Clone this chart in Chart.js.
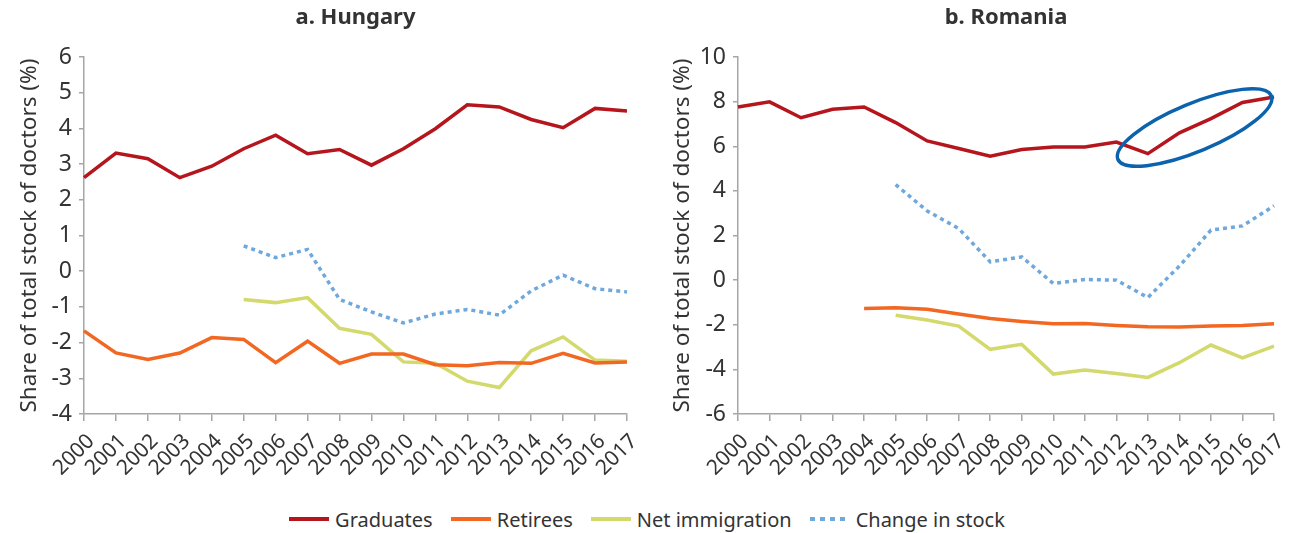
<!DOCTYPE html>
<html>
<head>
<meta charset="utf-8">
<script src="https://cdn.jsdelivr.net/npm/chart.js@4"></script>
<style>
  html, body { margin: 0; padding: 0; background: #fff; }
  body { width: 1294px; height: 533px; overflow: hidden; font-family: "Noto Sans", "Open Sans", sans-serif; }
  .charts { display: flex; width: 1294px; height: 490px; }
  .box { position: relative; width: 647px; height: 490px; }
  .legend { display: flex; justify-content: center; align-items: center; margin-top: 16px; height: 26px; font-size: 20px; color: #333; }
  .item { display: flex; align-items: center; margin: 0 9px; }
  .swatch { width: 40px; height: 4px; margin-right: 6px; }
</style>
</head>
<body>
<div class="charts">
  <div class="box"><canvas id="hungary" width="647" height="490"></canvas></div>
  <div class="box"><canvas id="romania" width="647" height="490"></canvas></div>
</div>
<div class="legend" id="legend"></div>

<script>
// Years on the x axis
const years = ['2000','2001','2002','2003','2004','2005','2006','2007','2008','2009',
               '2010','2011','2012','2013','2014','2015','2016','2017'];

// a. Hungary
const huGraduates = [2.62, 3.31, 3.15, 2.62, 2.94, 3.43, 3.81, 3.29, 3.41, 2.97, 3.43, 3.99, 4.66, 4.60, 4.25, 4.02, 4.56, 4.49];
const huRetirees = [-1.67, -2.29, -2.47, -2.29, -1.86, -1.91, -2.56, -1.96, -2.58, -2.32, -2.32, -2.62, -2.65, -2.56, -2.58, -2.30, -2.57, -2.54];
const huImmigration = [null, null, null, null, null, -0.79, -0.88, -0.74, -1.60, -1.77, -2.54, -2.58, -3.08, -3.26, -2.23, -1.84, -2.49, -2.52];
const huChange = [null, null, null, null, null, 0.71, 0.38, 0.61, -0.79, -1.14, -1.45, -1.20, -1.07, -1.23, -0.55, -0.11, -0.49, -0.58];

// b. Romania
const roGraduates = [7.76, 7.99, 7.28, 7.66, 7.76, 7.06, 6.24, 5.90, 5.55, 5.85, 5.97, 5.97, 6.19, 5.67, 6.60, 7.24, 7.96, 8.21];
const roRetirees = [null, null, null, null, -1.27, -1.24, -1.31, -1.52, -1.72, -1.85, -1.96, -1.94, -2.03, -2.09, -2.10, -2.06, -2.03, -1.96];
const roImmigration = [null, null, null, null, null, -1.57, -1.79, -2.06, -3.10, -2.88, -4.21, -4.03, -4.18, -4.36, -3.70, -2.91, -3.48, -2.96];
const roChange = [null, null, null, null, null, 4.28, 3.10, 2.31, 0.82, 1.04, -0.15, 0.03, 0.00, -0.78, 0.63, 2.24, 2.43, 3.33];

const seriesNames = ['Graduates', 'Retirees', 'Net immigration', 'Change in stock'];
const seriesColors = ['#b5161d', '#f26722', '#d3d96c', '#6fa8dc'];

const FONT = '"Noto Sans", "Open Sans", sans-serif';
const TEXT = '#333333';
const AXIS = '#a6a6a6';

function makeDatasets(values) {
  return values.map((v, i) => ({
    label: seriesNames[i],
    data: v,
    borderColor: seriesColors[i],
    backgroundColor: seriesColors[i],
    borderWidth: 3.5,
    borderDash: i === 3 ? [4, 4] : [],
    borderCapStyle: 'butt',
    pointRadius: 0,
    tension: 0,
    fill: false,
    spanGaps: false
  }));
}

// panel title centred over the plot area rather than the whole canvas
const panelTitlePlugin = {
  id: 'panelTitle',
  afterDraw(chart, args, opts) {
    const ctx = chart.ctx;
    const area = chart.chartArea;
    ctx.save();
    ctx.font = 'bold 22px ' + FONT;
    ctx.fillStyle = TEXT;
    ctx.textAlign = 'center';
    ctx.textBaseline = 'middle';
    ctx.fillText(opts.text, (area.left + area.right) / 2, 18);
    ctx.restore();
  }
};

// blue ellipse drawn around the recent graduates increase in Romania
const highlightPlugin = {
  id: 'highlight',
  afterDatasetsDraw(chart, args, opts) {
    if (!opts || !opts.show) return;
    const ctx = chart.ctx;
    const cx = chart.scales.x.getPixelForValue(opts.xIndex);
    const cy = chart.scales.y.getPixelForValue(opts.yValue);
    ctx.save();
    ctx.beginPath();
    ctx.ellipse(cx, cy, 83, 24, -22.5 * Math.PI / 180, 0, Math.PI * 2);
    ctx.strokeStyle = '#0b63ad';
    ctx.lineWidth = 3.5;
    ctx.stroke();
    ctx.restore();
  }
};

function makeChart(id, values, yMin, yMax, step, axisWidth, titlePad, title, highlight) {
  return new Chart(document.getElementById(id), {
    type: 'line',
    data: { labels: years, datasets: makeDatasets(values) },
    options: {
      responsive: false,
      animation: false,
      devicePixelRatio: 1,
      layout: { padding: { left: 0, right: 20, top: 57, bottom: 0 } },
      plugins: {
        legend: { display: false },
        tooltip: { enabled: false },
        title: { display: false },
        panelTitle: { text: title },
        highlight: highlight
      },
      scales: {
        x: {
          offset: false,
          border: { display: true, color: AXIS, width: 1.5 },
          grid: { display: true, drawOnChartArea: false, drawTicks: true, tickLength: 7, color: AXIS, lineWidth: 1.5 },
          ticks: {
            autoSkip: false,
            minRotation: 45,
            maxRotation: 45,
            padding: 8,
            labelOffset: 7,
            color: TEXT,
            font: { family: FONT, size: 21 }
          },
          afterFit(scale) {
            scale.height = 76;
            scale.paddingLeft = 0;
            scale.paddingRight = 0;
          }
        },
        y: {
          min: yMin,
          max: yMax,
          border: { display: true, color: AXIS, width: 1.5 },
          grid: { display: true, drawOnChartArea: false, drawTicks: true, tickLength: 5, color: AXIS, lineWidth: 1.5 },
          ticks: {
            stepSize: step,
            padding: 7,
            color: TEXT,
            font: { family: FONT, size: 23 }
          },
          title: {
            display: true,
            text: 'Share of total stock of doctors (%)',
            color: TEXT,
            font: { family: FONT, size: 22.5 },
            padding: { top: titlePad, bottom: 0 }
          },
          afterFit(scale) { scale.width = axisWidth; }
        }
      }
    },
    plugins: [panelTitlePlugin, highlightPlugin]
  });
}

makeChart('hungary', [huGraduates, huRetirees, huImmigration, huChange], -4, 6, 1, 84, 16, 'a. Hungary', { show: false });
makeChart('romania', [roGraduates, roRetirees, roImmigration, roChange], -6, 10, 2, 91, 22, 'b. Romania',
  { show: true, xIndex: 14.48, yValue: 6.84 });

// shared legend below both panels
const legend = document.getElementById('legend');
seriesNames.forEach((name, i) => {
  const item = document.createElement('div');
  item.className = 'item';
  const sw = document.createElement('span');
  sw.className = 'swatch';
  sw.style.background = i === 3
    ? 'repeating-linear-gradient(to right, ' + seriesColors[i] + ' 0 5px, transparent 5px 10px)'
    : seriesColors[i];
  const label = document.createElement('span');
  label.textContent = name;
  item.appendChild(sw);
  item.appendChild(label);
  legend.appendChild(item);
});
</script>
</body>
</html>
